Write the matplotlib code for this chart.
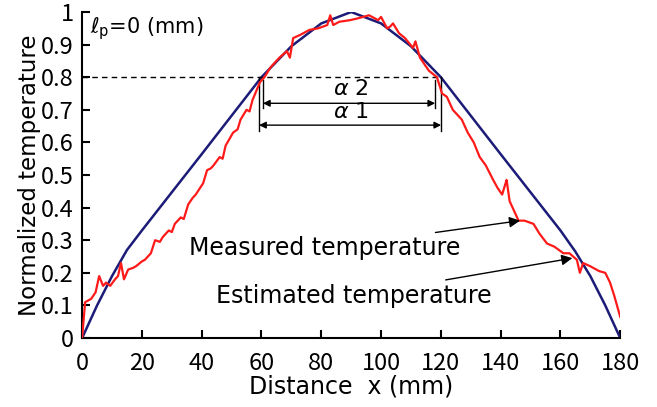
import matplotlib.pyplot as plt
import numpy as np

plt.rcParams['font.family'] = ['DejaVu Sans']

# estimated temperature (blue)
x_est = [0, 5, 10, 15, 20, 30, 40, 50, 60, 70, 80, 90, 100, 110, 120, 130, 140, 150, 160, 165, 170, 175, 180]
y_est = [0, 0.10, 0.19, 0.27, 0.33, 0.447, 0.564, 0.682, 0.80, 0.895, 0.965, 1.0, 0.965, 0.895, 0.80,
         0.682, 0.564, 0.447, 0.33, 0.265, 0.19, 0.10, 0]

# measured temperature (red)
x_meas = [0, 1, 3, 4.5, 5.7, 7, 8, 9.4, 11, 12, 13, 14, 15.4, 17, 18, 20, 21, 23, 24.4, 26, 27, 29, 30,
          31, 33, 34, 35.5, 37, 38, 40.5, 41.8, 43, 44, 46, 47, 48, 50.5, 52, 53, 55, 56, 57, 59.5, 61, 63,
          66, 68.5, 69.5, 70.6, 73, 76, 79, 82, 83, 84, 86, 89.6, 92, 96, 99, 100, 102, 103, 104, 106, 108,
          110.7, 111.5, 113, 116, 118.7, 120.4, 122, 124, 127, 129, 131, 133, 135, 137.5, 139, 140.5,
          141.5, 142, 143, 145, 146, 148, 151, 153, 155.5, 158, 161, 163, 165.5, 166.5, 167.6, 170, 173,
          175, 176.6, 178, 180]
y_meas = [0, 0.11, 0.12, 0.14, 0.19, 0.16, 0.17, 0.16, 0.18, 0.19, 0.23, 0.18, 0.21, 0.215, 0.22, 0.235,
          0.24, 0.26, 0.30, 0.295, 0.31, 0.33, 0.325, 0.35, 0.37, 0.365, 0.41, 0.43, 0.44, 0.475, 0.515,
          0.52, 0.53, 0.555, 0.55, 0.59, 0.63, 0.64, 0.67, 0.70, 0.695, 0.73, 0.785, 0.80, 0.83, 0.86,
          0.88, 0.86, 0.92, 0.93, 0.945, 0.95, 0.96, 0.99, 0.96, 0.97, 0.975, 0.98, 0.99, 0.975, 0.985,
          0.95, 0.955, 0.965, 0.935, 0.92, 0.89, 0.91, 0.86, 0.82, 0.80, 0.75, 0.74, 0.70, 0.67, 0.63,
          0.60, 0.555, 0.53, 0.485, 0.46, 0.44, 0.47, 0.485, 0.42, 0.38, 0.36, 0.36, 0.35, 0.32, 0.29,
          0.28, 0.26, 0.26, 0.24, 0.20, 0.23, 0.22, 0.205, 0.20, 0.17, 0.13, 0.065]

xticks = np.arange(0, 181, 20)
yticks = np.round(np.arange(0, 1.01, 0.1), 1)
ytick_labels = ['0', '0.1', '0.2', '0.3', '0.4', '0.5', '0.6', '0.7', '0.8', '0.9', '1']

fig = plt.figure(figsize=(6.57, 4.07), dpi=100)
ax = fig.add_axes([0.125, 0.1695, 0.819, 0.801])

ax.plot(x_meas, y_meas, color='#ff1a1a', lw=1.6, zorder=3)
ax.plot(x_est, y_est, color='#1c1c78', lw=1.8, zorder=2)

# 0.8 level and widths
ax.plot([0, 119.5], [0.8, 0.8], 'k--', lw=1, dashes=(4, 3))
ax.plot([59.2, 59.2], [0.8, 0.635], color='k', lw=1)
ax.plot([120.1, 120.1], [0.8, 0.635], color='k', lw=1)
ax.plot([60.5, 60.5], [0.79, 0.705], color='k', lw=1)
ax.plot([118.1, 118.1], [0.79, 0.705], color='k', lw=1)
ax.annotate('', xy=(60.5, 0.72), xytext=(118.1, 0.72),
            arrowprops=dict(arrowstyle='<|-|>', color='k', lw=1, mutation_scale=10, shrinkA=0, shrinkB=0))
ax.annotate('', xy=(59.2, 0.653), xytext=(120.1, 0.653),
            arrowprops=dict(arrowstyle='<|-|>', color='k', lw=1, mutation_scale=10, shrinkA=0, shrinkB=0))
ax.text(90, 0.765, r'$\alpha$ 2', ha='center', va='center', fontsize=16)
ax.text(90, 0.692, r'$\alpha$ 1', ha='center', va='center', fontsize=16)

ax.annotate('Measured temperature', xy=(146.5, 0.36), xytext=(81, 0.276),
            ha='center', va='center', fontsize=17,
            arrowprops=dict(arrowstyle='-|>', color='k', lw=1, mutation_scale=16, shrinkA=4, shrinkB=0))
ax.annotate('Estimated temperature', xy=(164, 0.245), xytext=(91, 0.13),
            ha='center', va='center', fontsize=17,
            arrowprops=dict(arrowstyle='-|>', color='k', lw=1, mutation_scale=16, shrinkA=4, shrinkB=0))

ax.text(2.5, 0.95, r'$\ell_{\rm p}$=0 (mm)', ha='left', va='center', fontsize=15)

ax.set_xlim(0, 180)
ax.set_ylim(0, 1)
ax.set_xticks(xticks)
ax.set_yticks(yticks)
ax.set_yticklabels(ytick_labels)
ax.tick_params(direction='in', length=6, width=1.5)
ax.tick_params(axis='x', pad=10)
ax.tick_params(axis='y', pad=6)
for lab in ax.get_xticklabels() + ax.get_yticklabels():
    lab.set_family(['Noto Sans CJK JP', 'DejaVu Sans'])
    lab.set_fontsize(17)
ax.spines['top'].set_visible(False)
ax.spines['right'].set_visible(False)
ax.spines['left'].set_linewidth(1.5)
ax.spines['bottom'].set_linewidth(1.5)
ax.set_xlabel('Distance  x (mm)', fontsize=17, labelpad=0)
ax.set_ylabel('Normalized temperature', fontsize=16.5, labelpad=0)

fig.savefig('out.png', dpi=100)
